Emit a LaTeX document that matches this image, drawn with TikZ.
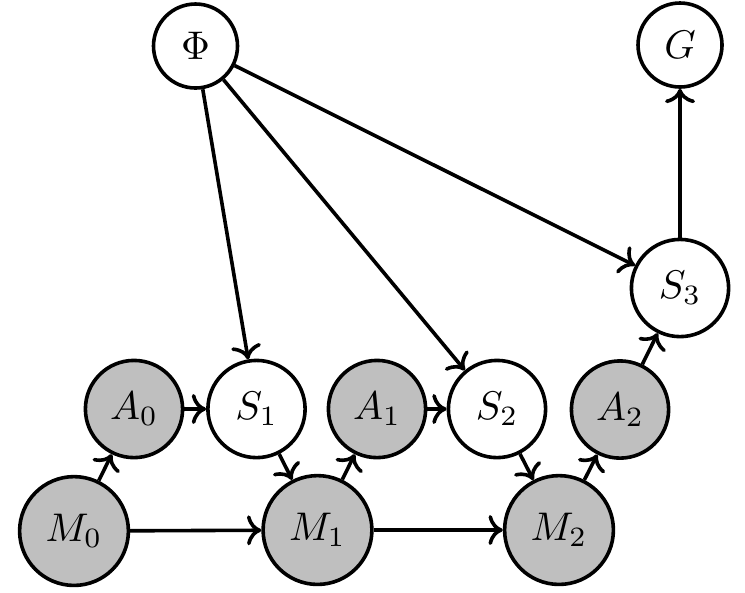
\documentclass[tikz,border=0pt]{standalone}
\usetikzlibrary{arrows.meta}
\begin{document}
\begin{tikzpicture}[x=0.25pt,y=-0.25pt,
  every node/.style={circle,draw,line width=0.9pt,inner sep=0pt,font=\fontsize{10.3pt}{12pt}\selectfont},
  smallnode/.style={minimum size=21pt},
  midnode/.style={minimum size=24.3pt},
  bignode/.style={minimum size=27.2pt},
  obs/.style={fill=black!25},
  edge/.style={->,line width=0.9pt}]
\useasboundingbox (0,0) rectangle (745,592);
\node[smallnode] (Phi) at (195.5,46) {$\Phi$};
\node[smallnode] (G) at (680,45) {$G$};
\node[midnode] (S3) at (680,288) {$S_3$};
\node[midnode,obs] (A0) at (134,409) {$A_0$};
\node[midnode] (S1) at (256.5,409) {$S_1$};
\node[midnode,obs] (A1) at (377,409) {$A_1$};
\node[midnode] (S2) at (497,409) {$S_2$};
\node[midnode,obs] (A2) at (620,409.5) {$A_2$};
\node[bignode,obs] (M0) at (74,531) {$M_0$};
\node[bignode,obs] (M1) at (317.5,530) {$M_1$};
\node[bignode,obs] (M2) at (559,530) {$M_2$};
\draw[edge] (Phi) -- (S1);
\draw[edge] (Phi) -- (S2);
\draw[edge] (Phi) -- (S3);
\draw[edge] (S3) -- (G);
\draw[edge] (A0) -- (S1);
\draw[edge] (S1) -- (M1);
\draw[edge] (M0) -- (A0);
\draw[edge] (M0) -- (M1);
\draw[edge] (M1) -- (A1);
\draw[edge] (A1) -- (S2);
\draw[edge] (S2) -- (M2);
\draw[edge] (M1) -- (M2);
\draw[edge] (M2) -- (A2);
\draw[edge] (A2) -- (S3);
\end{tikzpicture}
\end{document}
